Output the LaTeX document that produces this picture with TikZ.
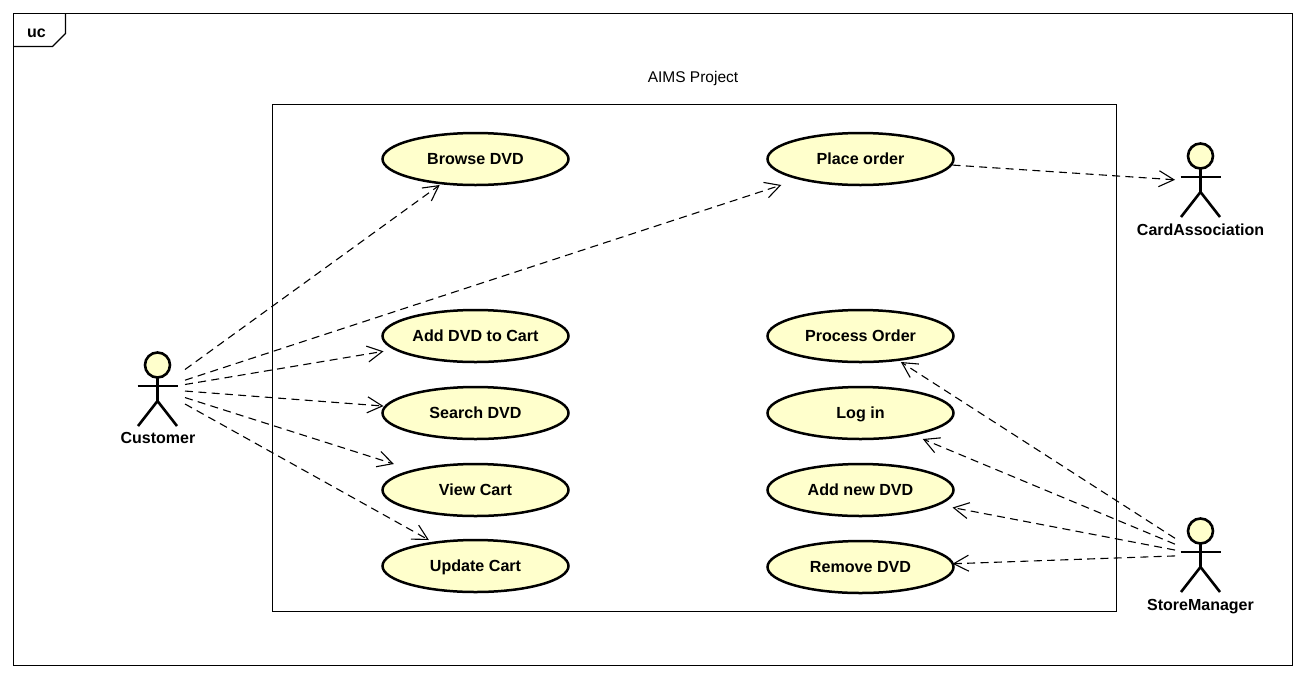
\documentclass[tikz,border=0pt]{standalone}
\usepackage{fontspec}
\setmainfont{Liberation Sans}
\usetikzlibrary{shapes.geometric,arrows.meta}
\definecolor{ucfill}{HTML}{FFFFCC}
\tikzset{
  x=1pt,y=-1pt,
  usecase/.style={ellipse,draw=black,line width=2.5pt,fill=ucfill,minimum width=186pt,minimum height=52pt,inner sep=0pt,text height=10pt,text depth=0pt,font=\fontsize{16.1}{18}\selectfont\bfseries},
  usecasebox/.style={rectangle,draw=none,fill=none,minimum width=184pt,minimum height=52pt,inner sep=0pt,outer sep=0pt},
  frameline/.style={draw=black,line width=1.1pt},
  actorhit/.style={rectangle,draw=none,fill=none,minimum width=#1,minimum height=70pt,inner sep=0pt,outer sep=0pt},
  actorlabel/.style={inner sep=0pt,anchor=base,font=\fontsize{16}{18}\selectfont\bfseries},
  actorline/.style={draw=black,line width=2.6pt},
  dep/.style={draw=black,line width=1.1pt,dash pattern=on 8pt off 5.33pt,-{Straight Barb[length=15pt,width=16pt,line width=1.1pt]}},
}
\newcommand{\actorfig}[2]{%
  \draw[actorline,fill=ucfill] (#1,#2) circle (12.5pt);
  \draw[actorline] (#1-20,#2+21) -- (#1+20.5,#2+21);
  \draw[actorline] (#1,#2+12.5) -- (#1,#2+36);
  \draw[actorline] (#1-19.5,#2+61) -- (#1,#2+36) -- (#1+19.5,#2+61);
}
% a use case: the ellipse with its text, and the box the connectors stop at
\newcommand{\usecasenode}[4]{%
  \node[usecase] (#1) at (#2,#3) {#4};
  \node[usecasebox] (#1box) at (#1.center) {};
}
\begin{document}
\begin{tikzpicture}
\useasboundingbox (0,0) rectangle (1305,678);
\fill[white] (0,0) rectangle (1305,678);
\draw[frameline] (13.5,13.5) rectangle (1292.5,665.5);
\draw[frameline] (13.5,46.5) -- (52.5,46.5) -- (65.5,33.5) -- (65.5,13.5);
\node[inner sep=0pt,anchor=base,font=\fontsize{16}{18}\selectfont\bfseries] (uclabel) at (36.5,37) {uc};
\node[inner sep=0pt,anchor=base,font=\fontsize{15.5}{18}\selectfont] (title) at (693,82.5) {AIMS Project};
\draw[frameline] (272.5,104.5) rectangle (1116.5,611.5);

\usecasenode{browse}{475.5}{159}{Browse DVD}
\usecasenode{place}{860.5}{159}{Place order}
\usecasenode{addcart}{475.5}{336}{Add DVD to Cart}
\usecasenode{process}{860.5}{336}{Process Order}
\usecasenode{search}{475.5}{413}{Search DVD}
\usecasenode{login}{860.5}{413}{Log in}
\usecasenode{view}{475.5}{490}{View Cart}
\usecasenode{addnew}{860.5}{490}{Add new DVD}
\usecasenode{update}{475.5}{566}{Update Cart}
\usecasenode{remove}{860.5}{567}{Remove DVD}

\actorfig{157.5}{365}
\actorfig{1200.5}{156}
\actorfig{1200.5}{531}
\node[actorlabel] (customerlabel) at (158,443) {Customer};
\node[actorlabel] (cardlabel) at (1200.5,235) {CardAssociation};
\node[actorlabel] (storelabel) at (1200.5,610) {StoreManager};

\node[actorhit=54pt] (customer) at (158,389) {};
\node[actorhit=52pt] (card) at (1201,181.5) {};
\node[actorhit=52pt] (store) at (1201,555) {};

\draw[dep] (customer) -- (browsebox);
\draw[dep] (customer) -- (placebox);
\draw[dep] (customer) -- (addcartbox);
\draw[dep] (customer) -- (searchbox);
\draw[dep] (customer) -- (viewbox);
\draw[dep] (customer) -- (updatebox);
\draw[dep] (placebox) -- (card);
\draw[dep] (store) -- (processbox);
\draw[dep] (store) -- (loginbox);
\draw[dep] (store) -- (addnewbox);
\draw[dep] (store) -- (removebox);
\end{tikzpicture}
\end{document}
